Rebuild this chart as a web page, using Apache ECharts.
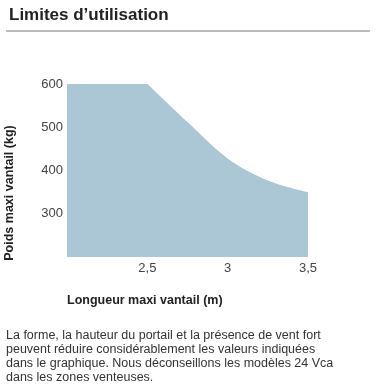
<!DOCTYPE html>
<html>
<head>
<meta charset="utf-8">
<script src="https://cdn.jsdelivr.net/npm/echarts@6/dist/echarts.min.js"></script>
<style>
  html, body { margin: 0; padding: 0; background: #fff; }
  #chart { width: 377px; height: 386px; }
</style>
</head>
<body>
<div id="chart"></div>
<script>
// palier plat puis courbe décroissante : longueur (m) / poids (kg)
// (le palier déborde un peu sur le début de la pente pour masquer la jointure)
let plateauX = [2, 2.5, 2.55];
let plateauY = [600, 600, 582];
let courbeX = [2.5, 2.75, 3.0, 3.25, 3.5];
let courbeY = [600, 512, 428, 377, 350];
let xTicks = ['2,5', '3', '3,5'];
let yTicks = [300, 400, 500, 600];

let font = '"Liberation Sans", Arial, sans-serif';
let fill = '#abc7d5';
let myChart = echarts.init(document.getElementById('chart'));

function pairs(xs, ys) {
  return xs.map(function (x, i) { return [x, ys[i]]; });
}

let option = {
  animation: false,
  grid: { left: 67, right: 69, top: 84, bottom: 129 },
  xAxis: {
    type: 'value',
    min: 2, max: 3.5, interval: 0.5,
    axisLine: { show: false },
    axisTick: { show: false },
    splitLine: { show: false },
    axisLabel: {
      margin: 5,
      color: '#444',
      fontFamily: font,
      fontSize: 13,
      formatter: function (v) {
        let s = String(v).replace('.', ',');
        return xTicks.indexOf(s) >= 0 ? s : '';
      }
    }
  },
  yAxis: {
    type: 'value',
    min: 200, max: 600, interval: 100,
    axisLine: { show: false },
    axisTick: { show: false },
    splitLine: { show: false },
    axisLabel: {
      margin: 4,
      color: '#444',
      fontFamily: font,
      fontSize: 13,
      formatter: function (v) {
        return yTicks.indexOf(v) >= 0 ? String(v) : '';
      }
    }
  },
  series: [
    {
      type: 'line',
      data: pairs(courbeX, courbeY),
      smooth: 0.35,
      symbol: 'none',
      lineStyle: { width: 0 },
      areaStyle: { color: fill, opacity: 1, origin: 'start' }
    },
    {
      type: 'line',
      data: pairs(plateauX, plateauY),
      symbol: 'none',
      lineStyle: { width: 0 },
      areaStyle: { color: fill, opacity: 1, origin: 'start' }
    }
  ],
  graphic: [
    {
      type: 'text', left: 9, top: 7,
      style: { text: 'Limites d\u2019utilisation', font: 'bold 17px ' + font, fill: '#222' }
    },
    {
      type: 'line',
      shape: { x1: 6, y1: 31, x2: 370, y2: 31 },
      style: { stroke: '#777', lineWidth: 1.2 }
    },
    {
      type: 'text',
      x: 10, y: 193, rotation: Math.PI / 2,
      style: {
        text: 'Poids maxi vantail (kg)', font: 'bold 12.5px ' + font, fill: '#222',
        align: 'center', verticalAlign: 'middle'
      }
    },
    {
      type: 'text', left: 67, top: 294,
      style: { text: 'Longueur maxi vantail (m)', font: 'bold 12.5px ' + font, fill: '#222' }
    },
    {
      type: 'text', left: 6, top: 329,
      style: {
        text: 'La forme, la hauteur du portail et la présence de vent fort\npeuvent réduire considérablement les valeurs indiquées\ndans le graphique. Nous déconseillons les modèles 24 Vca\ndans les zones venteuses.',
        font: '12.5px ' + font, fill: '#333', lineHeight: 14
      }
    }
  ]
};
myChart.setOption(option);
</script>
</body>
</html>
